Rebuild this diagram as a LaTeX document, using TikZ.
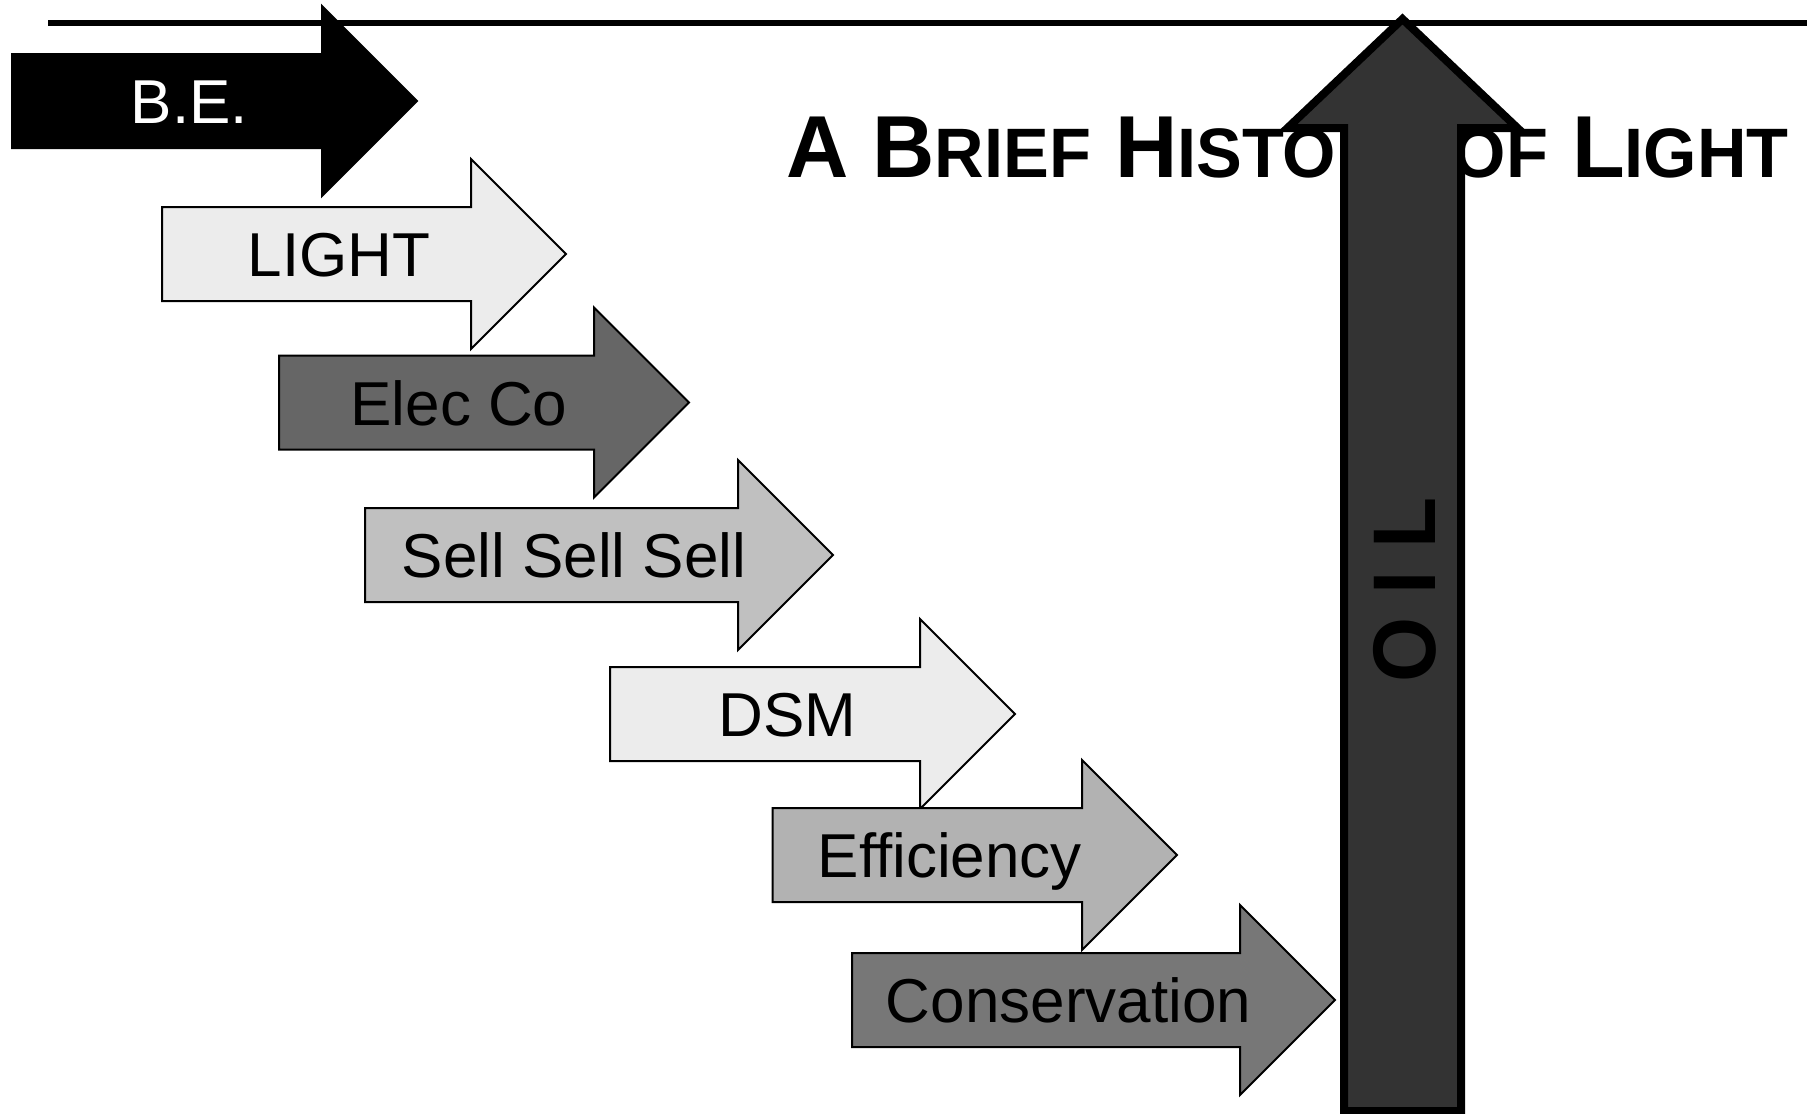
\documentclass[tikz,border=0pt]{standalone}
\usepackage{fontspec}
\setmainfont{Liberation Sans}
\usepackage{graphicx}

\definecolor{lightfill}{HTML}{ECECEC}
\definecolor{elecfill}{HTML}{666666}
\definecolor{sellfill}{HTML}{C0C0C0}
\definecolor{efffill}{HTML}{B2B2B2}
\definecolor{consfill}{HTML}{777777}
\definecolor{oilfill}{HTML}{333333}

\tikzset{
  blockarrow/.style={draw=black, line width=1pt, line join=miter},
  arrowtext/.style={anchor=base, inner sep=0pt, font=\fontsize{31}{36}\selectfont},
}
\newcommand{\titlesmall}[1]{{\fontsize{35}{40}\selectfont #1}}

\begin{document}
\begin{tikzpicture}[x=0.5pt, y=-0.5pt]
  \useasboundingbox (0,0) rectangle (1816,1114);

  % Draw the top line
  \coordinate (lineL) at (48,23);
  \coordinate (lineR) at (1807,23);
  \draw[line width=3pt] (lineL) -- (lineR);

  % Draw the stepped arrows and their labels
  \draw[blockarrow, fill=black] (12,54) -- (322,54) -- (322,6) -- (417,101) -- (322,196) -- (322,148) -- (12,148) -- cycle;
  \node[arrowtext, text=white] (be) at (189.5,123.5) {B.E.};

  \draw[blockarrow, fill=lightfill] (162,207) -- (471,207) -- (471,159) -- (566,254) -- (471,349) -- (471,301) -- (162,301) -- cycle;
  \node[arrowtext] (light) at (339,276.5) {LIGHT};

  \draw[blockarrow, fill=elecfill] (279,355.5) -- (594,355.5) -- (594,307.5) -- (689,402.5) -- (594,497.5) -- (594,449.5) -- (279,449.5) -- cycle;
  \node[arrowtext] (elecco) at (459,425) {Elec Co};

  \draw[blockarrow, fill=sellfill] (365,508) -- (738,508) -- (738,460) -- (833,555) -- (738,650) -- (738,602) -- (365,602) -- cycle;
  \node[arrowtext] (sell) at (574,577.5) {Sell Sell Sell};

  \draw[blockarrow, fill=lightfill] (610,667) -- (920,667) -- (920,619) -- (1015,714) -- (920,809) -- (920,761) -- (610,761) -- cycle;
  \node[arrowtext] (dsm) at (787.5,736.5) {DSM};

  \draw[blockarrow, fill=efffill] (772.5,808) -- (1082,808) -- (1082,760) -- (1177,855) -- (1082,950) -- (1082,902) -- (772.5,902) -- cycle;
  \node[arrowtext] (efficiency) at (949.8,877.5) {Efficiency};

  \draw[blockarrow, fill=consfill] (852,953) -- (1240,953) -- (1240,905) -- (1335,1000) -- (1240,1095) -- (1240,1047) -- (852,1047) -- cycle;
  \node[arrowtext] (conservation) at (1068.5,1022.5) {Conservation};

  % Write the title (it sits behind the oil arrow)
  \node[anchor=base west, inner sep=0pt, font=\bfseries\fontsize{44}{50}\selectfont] (title) at (786,177)
    {\scalebox{0.98}[1]{A B\titlesmall{RIEF} H\titlesmall{ISTORY} \titlesmall{OF} L\titlesmall{IGHT}}};

  % Draw the oil arrow
  \draw[line width=4pt, line join=miter, fill=oilfill] (1344,1111) -- (1344,128) -- (1287.5,128) -- (1402.5,19) -- (1517.5,128) -- (1461,128) -- (1461,1111) -- cycle;
  \node[rotate=90, inner sep=0pt, font=\bfseries\fontsize{44.5}{50}\selectfont] (oil) at (1405,590) {\scalebox{0.94}[1]{O I L}};
\end{tikzpicture}
\end{document}
